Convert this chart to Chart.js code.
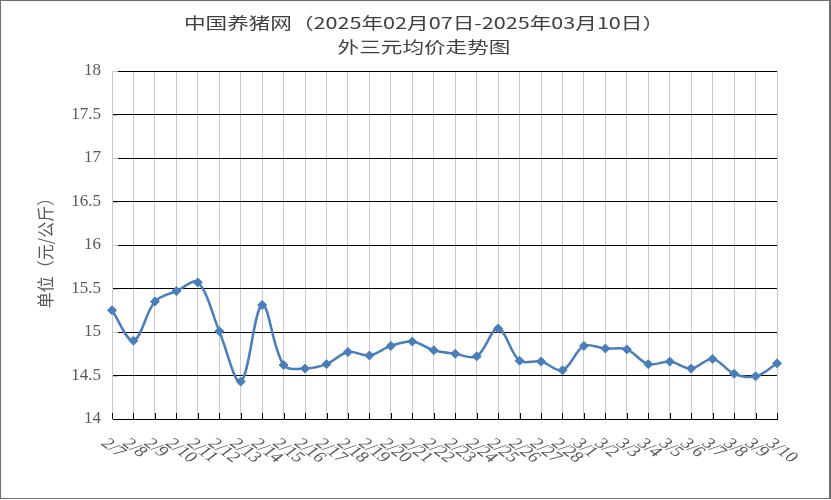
<!DOCTYPE html>
<html><head><meta charset="utf-8">
<script src="https://cdn.jsdelivr.net/npm/chart.js@4.4.1/dist/chart.umd.min.js"></script>
<style>
html,body{margin:0;padding:0;background:#fff;}
#wrap{position:relative;width:831px;height:500px;}
#frame{position:absolute;left:0;top:0;width:831px;height:499px;box-sizing:border-box;border:1px solid #6e6e6e;border-right-width:2px;pointer-events:none;}
canvas{display:block;}
</style></head><body>
<div id="wrap"><canvas id="c" width="831" height="500"></canvas><div id="frame"></div></div>
<script>
const titleLines = ['中国养猪网（2025年02月07日-2025年03月10日）', '外三元均价走势图'];
const yAxisTitle = '单位（元/公斤）';
const categories = ['2/7','2/8','2/9','2/10','2/11','2/12','2/13','2/14','2/15','2/16','2/17','2/18','2/19','2/20','2/21','2/22','2/23','2/24','2/25','2/26','2/27','2/28','3/1','3/2','3/3','3/4','3/5','3/6','3/7','3/8','3/9','3/10'];
const prices = [15.25,14.90,15.35,15.47,15.57,15.01,14.43,15.31,14.62,14.58,14.63,14.77,14.73,14.84,14.89,14.79,14.75,14.72,15.04,14.67,14.66,14.56,14.84,14.81,14.80,14.63,14.66,14.58,14.69,14.52,14.49,14.64];
const yMin = 14, yMax = 18, yStep = 0.5;

const serif = '"Liberation Serif", "DejaVu Serif", serif';

const decor = {
  id: 'decor',
  beforeDatasetsDraw(chart) {
    const ctx = chart.ctx, x = chart.scales.x, y = chart.scales.y, a = chart.chartArea;
    ctx.save();
    ctx.lineWidth = 1;
    ctx.strokeStyle = '#000';
    ctx.beginPath();
    categories.forEach((c, i) => {
      const px = Math.round(x.getPixelForValue(i)) + 0.5;
      ctx.moveTo(px, a.bottom); ctx.lineTo(px, a.bottom - 6);
    });
    ctx.stroke();
    ctx.strokeStyle = '#c8c8c8';
    ctx.beginPath();
    y.ticks.forEach(t => {
      const py = Math.round(y.getPixelForValue(t.value)) + 0.5;
      if (t.value === yMin) return;
      ctx.moveTo(a.left, py); ctx.lineTo(a.left + 6, py);
    });
    ctx.stroke();
    ctx.restore();
  },
  afterDraw(chart) {
    const ctx = chart.ctx, x = chart.scales.x;
    ctx.save();
    ctx.fillStyle = '#404040';
    ctx.font = '16px "Noto Sans CJK SC"';
    ctx.textAlign = 'center';
    ctx.textBaseline = 'middle';
    [23, 47].forEach((ty, k) => {
      ctx.save(); ctx.translate(424, ty); ctx.scale(1.35, 1);
      ctx.fillText(titleLines[k], 0, 0); ctx.restore();
    });
    ctx.fillStyle = '#595959';
    ctx.font = '16px "Noto Sans CJK SC"';
    ctx.save(); ctx.translate(45, 249); ctx.scale(1.1, 1); ctx.rotate(-Math.PI / 2);
    ctx.fillText(yAxisTitle, 0, 0); ctx.restore();
    ctx.font = '15px ' + serif;
    ctx.textAlign = 'left';
    ctx.textBaseline = 'top';
    categories.forEach((lab, i) => {
      const px = x.getPixelForValue(i);
      ctx.save(); ctx.translate(px - 1, 436); ctx.scale(1.35, 1); ctx.rotate(Math.PI / 4);
      ctx.fillText(lab, 0, 0); ctx.restore();
    });
    ctx.restore();
  }
};

new Chart(document.getElementById('c'), {
  type: 'line',
  data: {
    labels: categories,
    datasets: [{
      data: prices,
      borderColor: '#4a7ebb',
      backgroundColor: '#4a7ebb',
      borderWidth: 2.5,
      tension: 0.35,
      pointStyle: 'rectRot',
      pointRadius: 4.5,
      pointBorderWidth: 1,
      fill: false
    }]
  },
  options: {
    responsive: false,
    animation: false,
    devicePixelRatio: 1,
    layout: { padding: { left: 0, right: 54, top: 71, bottom: 0 } },
    plugins: { legend: { display: false }, title: { display: false }, tooltip: { enabled: false } },
    scales: {
      x: {
        offset: false,
        grid: { color: '#c8c8c8', lineWidth: 1, drawTicks: false, z: -2 },
        border: { color: '#000', width: 1 },
        ticks: { display: false },
        afterFit(s) { s.height = 81; }
      },
      y: {
        min: yMin, max: yMax,
        ticks: { stepSize: yStep, color: '#595959', font: { family: serif, size: 17 }, padding: 11,
                 callback: v => String(v) },
        grid: { color: '#000', lineWidth: 1, drawTicks: false, z: -1 },
        border: { color: '#c8c8c8', width: 1 },
        afterFit(s) { s.width = 112; }
      }
    }
  },
  plugins: [decor]
});
</script>
</body></html>
